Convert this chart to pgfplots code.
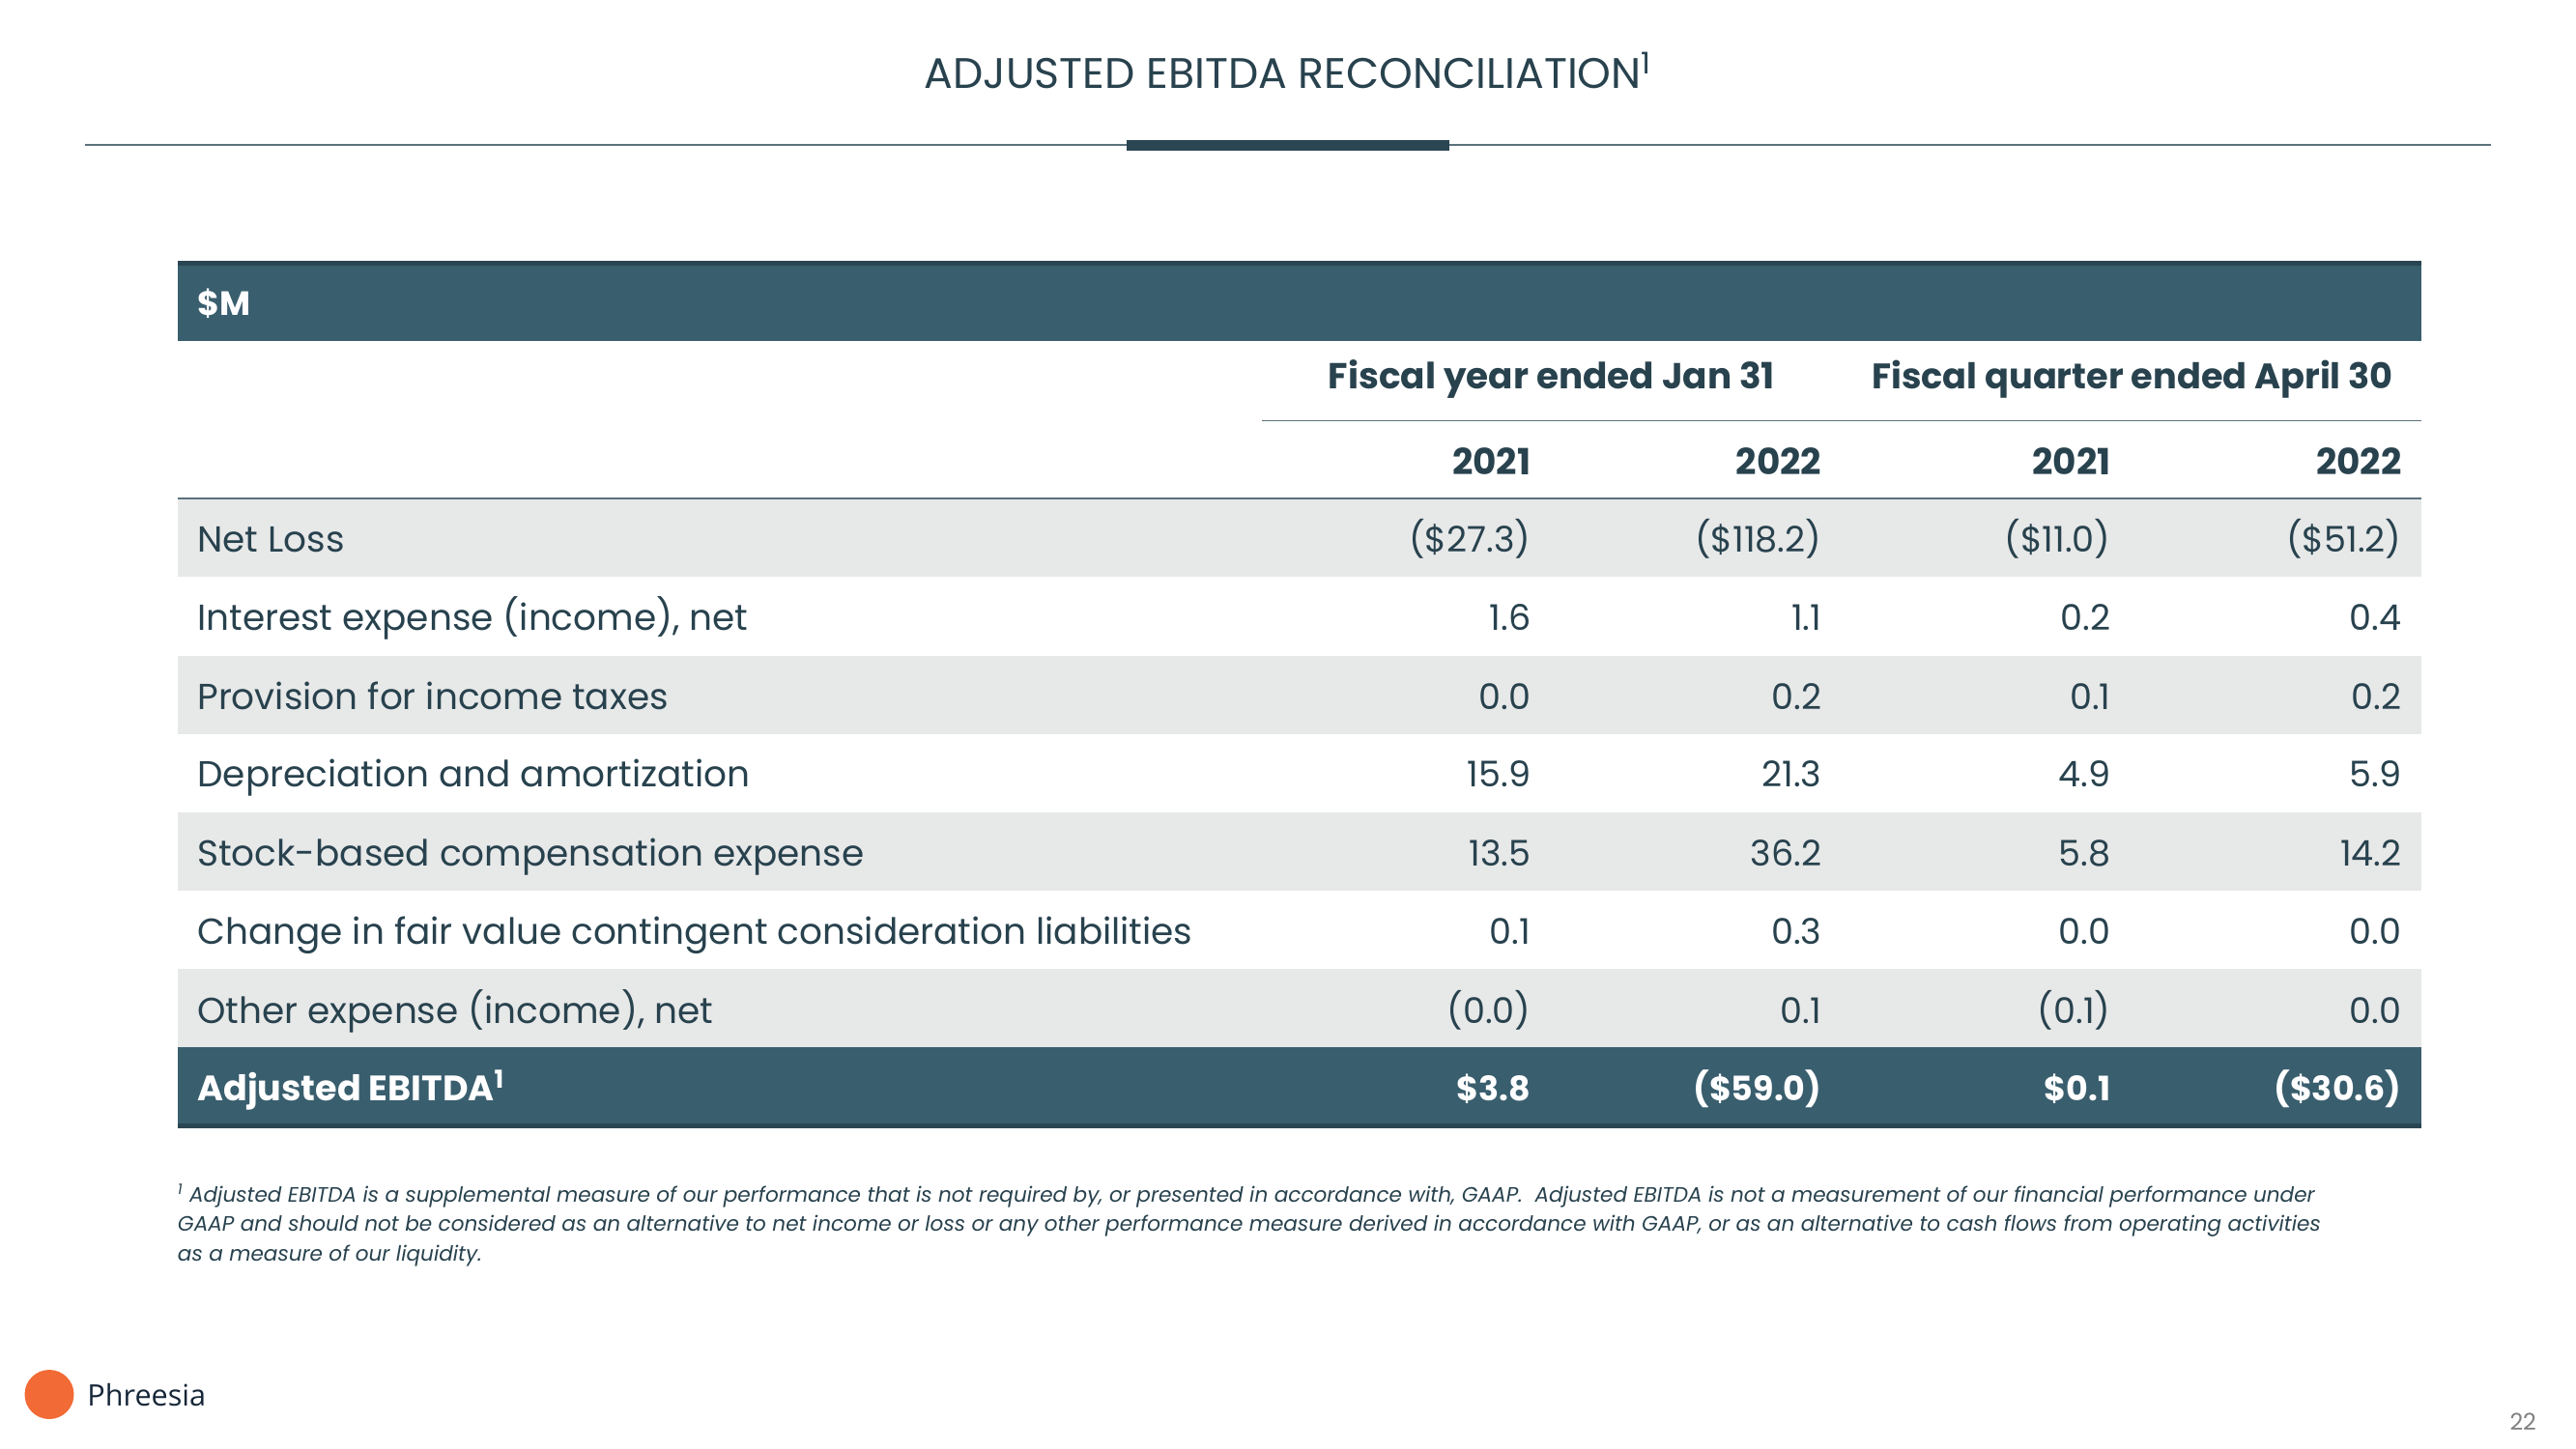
\documentclass[border=0pt]{standalone}
\usepackage{pgfplots}
\pgfplotsset{compat=1.18}
\usepackage{fontspec}
\setmainfont{Poppins}
\newfontfamily\logofont{Open Sans}
\definecolor{teal}{RGB}{57,94,110}
\definecolor{tealdark}{RGB}{42,70,82}
\definecolor{band}{RGB}{231,232,232}
\definecolor{txt}{RGB}{40,66,78}
\definecolor{rule}{RGB}{92,114,124}
\definecolor{logo}{RGB}{242,106,53}
\definecolor{navy}{RGB}{22,38,56}
\newcommand\lab[2]{\node[anchor=base west, text=txt, font=\fontsize{22}{26}\selectfont, inner sep=0pt] at (axis cs:120,#1) {#2};}
\newcommand\val[3]{\node[anchor=base east, text=txt, font=\fontsize{21.5}{26}\selectfont, inner sep=0pt] at (axis cs:#1,#2) {#3};}
\newcommand\bval[4]{\node[anchor=base east, text=#4, font=\fontsize{20.5}{24}\selectfont\bfseries, inner sep=0pt] at (axis cs:#1,#2) {#3};}
\newcommand\row[5]{\val{932}{#1}{#2}\val{1109}{#1}{#3}\val{1285}{#1}{#4}\val{1462}{#1}{#5}}
\begin{document}
\begin{tikzpicture}
\begin{axis}[hide axis, scale only axis, width=1568pt, height=882pt,
  xmin=0, xmax=1568, ymin=0, ymax=882, y dir=reverse, clip=false,
  enlargelimits=false]
\fill[white] (axis cs:0,0) rectangle (axis cs:1568,882);
% title
\node[anchor=base, text=txt, font=\fontsize{26}{30}\selectfont, inner sep=0pt] at (axis cs:784,54) {ADJUSTED EBITDA RECONCILIATION\textsuperscript{1}};
\draw[rule, line width=1.2pt] (axis cs:52,88) -- (axis cs:1516,88);
\fill[tealdark] (axis cs:686,85) rectangle (axis cs:882,92);
% header bar
\fill[teal] (axis cs:108,160) rectangle (axis cs:1474,207.5);
\fill[tealdark] (axis cs:108,159) rectangle (axis cs:1474,161.5);
\node[anchor=base west, text=white, font=\fontsize{20.5}{24}\selectfont\bfseries, inner sep=0pt] at (axis cs:120,192) {\$M};
% group headers
\node[anchor=base, text=txt, font=\fontsize{22}{26}\selectfont\bfseries, inner sep=0pt] at (axis cs:944.5,237) {Fiscal year ended Jan 31};
\node[anchor=base, text=txt, font=\fontsize{21.6}{26}\selectfont\bfseries, inner sep=0pt] at (axis cs:1298,237) {Fiscal quarter ended April 30};
\draw[rule, line width=0.8pt] (axis cs:768,256) -- (axis cs:1474,256);
% years
\node[anchor=base east, text=txt, font=\fontsize{22}{26}\selectfont\bfseries, inner sep=0pt] at (axis cs:932,289) {2021};
\node[anchor=base east, text=txt, font=\fontsize{22}{26}\selectfont\bfseries, inner sep=0pt] at (axis cs:1109,289) {2022};
\node[anchor=base east, text=txt, font=\fontsize{22}{26}\selectfont\bfseries, inner sep=0pt] at (axis cs:1285,289) {2021};
\node[anchor=base east, text=txt, font=\fontsize{22}{26}\selectfont\bfseries, inner sep=0pt] at (axis cs:1462,289) {2022};
\draw[rule, line width=0.8pt] (axis cs:108,303.5) -- (axis cs:1474,303.5);
% row bands
\fill[band] (axis cs:108,304) rectangle (axis cs:1474,351);
\fill[band] (axis cs:108,399.5) rectangle (axis cs:1474,447);
\fill[band] (axis cs:108,494.5) rectangle (axis cs:1474,542);
\fill[band] (axis cs:108,590) rectangle (axis cs:1474,637.5);
\fill[teal] (axis cs:108,637.5) rectangle (axis cs:1474,685);
\fill[tealdark] (axis cs:108,684) rectangle (axis cs:1474,687);
% row labels
\lab{336}{Net Loss}
\lab{384}{Interest expense (income), net}
\lab{432}{Provision for income taxes}
\lab{479}{Depreciation and amortization}
\lab{527}{Stock-based compensation expense}
\lab{575}{Change in fair value contingent consideration liabilities}
\lab{623}{Other expense (income), net}
\node[anchor=base west, text=white, font=\fontsize{21.5}{24}\selectfont\bfseries, inner sep=0pt] at (axis cs:120,670) {Adjusted EBITDA\textsuperscript{1}};
% values
\row{336}{(\$27.3)}{(\$118.2)}{(\$11.0)}{(\$51.2)}
\row{384}{1.6}{1.1}{0.2}{0.4}
\row{432}{0.0}{0.2}{0.1}{0.2}
\row{479}{15.9}{21.3}{4.9}{5.9}
\row{527}{13.5}{36.2}{5.8}{14.2}
\row{575}{0.1}{0.3}{0.0}{0.0}
\row{623}{(0.0)}{0.1}{(0.1)}{0.0}
\bval{932}{670}{\$3.8}{white}
\bval{1109}{670}{(\$59.0)}{white}
\bval{1285}{670}{\$0.1}{white}
\bval{1462}{670}{(\$30.6)}{white}
% footnote
\node[anchor=north west, text=txt, font=\fontsize{12.7}{18}\selectfont\itshape, inner sep=0pt, align=left] at (axis cs:108,721) {\textsuperscript{1} Adjusted EBITDA is a supplemental measure of our performance that is not required by, or presented in accordance with, GAAP.\ \ Adjusted EBITDA is not a measurement of our financial performance under\\GAAP and should not be considered as an alternative to net income or loss or any other performance measure derived in accordance with GAAP, or as an alternative to cash flows from operating activities\\as a measure of our liquidity.};
% logo
\fill[logo] (axis cs:30,849) circle[radius=15pt];
\node[anchor=base west, text=navy, font=\logofont\fontsize{18}{22}\selectfont, inner sep=0pt] at (axis cs:53,856) {Phreesia};
\node[anchor=base east, text=gray, font=\fontsize{14}{16}\selectfont, inner sep=0pt] at (axis cs:1544,871) {22};
\end{axis}
\end{tikzpicture}
\end{document}
